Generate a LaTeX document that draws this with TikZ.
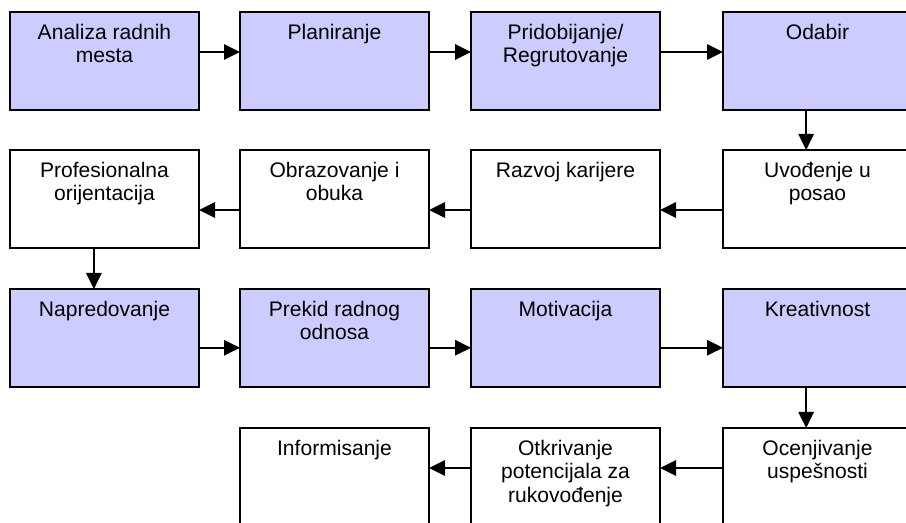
\documentclass[tikz,border=0pt]{standalone}
\usepackage{fontspec}
\setmainfont{Liberation Sans}
\usetikzlibrary{calc,arrows.meta}
\definecolor{boxblue}{HTML}{CCCCFF}
\begin{document}
\begin{tikzpicture}[x=0.75pt,y=-0.75pt,
  box/.style={draw=black, line width=1.4pt, minimum width=141.75pt, minimum height=73.5pt, anchor=north west, inner sep=0pt, outer sep=0pt},
  fbox/.style={box, fill=boxblue},
  wbox/.style={box, fill=white},
  lbl/.style={anchor=north, align=center, font=\fontsize{15.8pt}{17.5pt}\selectfont, inner sep=0pt},
  arr/.style={line width=1.4pt, -{Triangle[length=12pt,width=11.5pt]}}]
\clip (0,0) rectangle (906,523);
\fill[white] (0,0) rectangle (906,523);
% row 1
\node[fbox] (a1) at (10,12) {};
\node[fbox] (a2) at (240,12) {};
\node[fbox] (a3) at (471,12) {};
\node[fbox] (a4) at (723,12) {};
% row 2
\node[wbox] (b1) at (10,150) {};
\node[wbox] (b2) at (240,150) {};
\node[wbox] (b3) at (471,150) {};
\node[wbox] (b4) at (723,150) {};
% row 3
\node[fbox] (c1) at (10,289) {};
\node[fbox] (c2) at (240,289) {};
\node[fbox] (c3) at (471,289) {};
\node[fbox] (c4) at (723,289) {};
% row 4
\node[wbox] (d2) at (240,428) {};
\node[wbox] (d3) at (471,428) {};
\node[wbox] (d4) at (723,428) {};
% labels
\node[lbl] (ta1) at ($(a1.north)+(0,12)$) {Analiza radnih\\mesta};
\node[lbl] (ta2) at ($(a2.north)+(0,12)$) {Planiranje};
\node[lbl] (ta3) at ($(a3.north)+(0,12)$) {Pridobijanje/\\Regrutovanje};
\node[lbl] (ta4) at ($(a4.north)+(0,12)$) {Odabir};
\node[lbl] (tb1) at ($(b1.north)+(0,12)$) {Profesionalna\\orijentacija};
\node[lbl] (tb2) at ($(b2.north)+(0,12)$) {Obrazovanje i\\obuka};
\node[lbl] (tb3) at ($(b3.north)+(0,12)$) {Razvoj karijere};
\node[lbl] (tb4) at ($(b4.north)+(0,12)$) {Uvođenje u\\posao};
\node[lbl] (tc1) at ($(c1.north)+(0,12)$) {Napredovanje};
\node[lbl] (tc2) at ($(c2.north)+(0,12)$) {Prekid radnog\\odnosa};
\node[lbl] (tc3) at ($(c3.north)+(0,12)$) {Motivacija};
\node[lbl] (tc4) at ($(c4.north)+(0,12)$) {Kreativnost};
\node[lbl] (td2) at ($(d2.north)+(0,12)$) {Informisanje};
\node[lbl] (td3) at ($(d3.north)+(0,12)$) {Otkrivanje\\potencijala za\\rukovođenje};
\node[lbl] (td4) at ($(d4.north)+(0,12)$) {Ocenjivanje\\uspešnosti};
% arrows row 1
\draw[arr] ($(a1.north east)!0.408!(a1.south east)$) -- ($(a2.north west)!0.408!(a2.south west)$);
\draw[arr] ($(a2.north east)!0.408!(a2.south east)$) -- ($(a3.north west)!0.408!(a3.south west)$);
\draw[arr] ($(a3.north east)!0.408!(a3.south east)$) -- ($(a4.north west)!0.408!(a4.south west)$);
\draw[arr] ($(a4.south west)!0.44!(a4.south east)$) -- ($(b4.north west)!0.44!(b4.north east)$);
% row 2
\draw[arr] ($(b4.north west)!0.612!(b4.south west)$) -- ($(b3.north east)!0.612!(b3.south east)$);
\draw[arr] ($(b3.north west)!0.612!(b3.south west)$) -- ($(b2.north east)!0.612!(b2.south east)$);
\draw[arr] ($(b2.north west)!0.612!(b2.south west)$) -- ($(b1.north east)!0.612!(b1.south east)$);
\draw[arr] ($(b1.south west)!0.444!(b1.south east)$) -- ($(c1.north west)!0.444!(c1.north east)$);
% row 3
\draw[arr] ($(c1.north east)!0.6!(c1.south east)$) -- ($(c2.north west)!0.6!(c2.south west)$);
\draw[arr] ($(c2.north east)!0.6!(c2.south east)$) -- ($(c3.north west)!0.6!(c3.south west)$);
\draw[arr] ($(c3.north east)!0.6!(c3.south east)$) -- ($(c4.north west)!0.6!(c4.south west)$);
\draw[arr] ($(c4.south west)!0.44!(c4.south east)$) -- ($(d4.north west)!0.44!(d4.north east)$);
% row 4
\draw[arr] ($(d4.north west)!0.408!(d4.south west)$) -- ($(d3.north east)!0.408!(d3.south east)$);
\draw[arr] ($(d3.north west)!0.408!(d3.south west)$) -- ($(d2.north east)!0.408!(d2.south east)$);
\end{tikzpicture}
\end{document}
